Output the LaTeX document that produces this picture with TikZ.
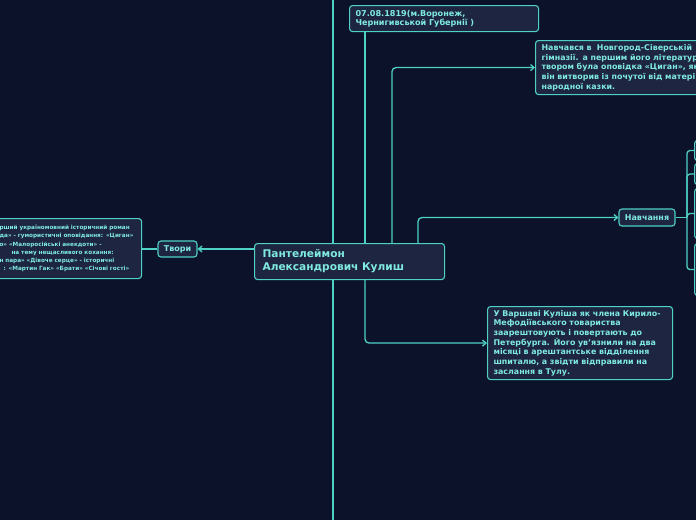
\documentclass[tikz,border=0pt]{standalone}
\usepackage{fontspec}
\setmainfont{DejaVu Sans}
\usetikzlibrary{positioning,arrows.meta,backgrounds}

\definecolor{bgnavy}{HTML}{0B1229}
\definecolor{boxfill}{HTML}{1E2541}
\definecolor{mmline}{HTML}{4FD1C5}
\definecolor{mmtext}{HTML}{7FEAE0}

\begin{document}
\begin{tikzpicture}[
  x=1pt, y=-1pt,
  box/.style   = {draw=mmline, fill=boxfill, rounded corners=3pt, line width=1.1pt,
                  text=mmtext, align=left, anchor=north west,
                  font=\bfseries\fontsize{7.9}{9.7}\selectfont,
                  inner xsep=6pt, inner ysep=2.5pt},
  topic/.style = {box, font=\bfseries\fontsize{10.6}{13}\selectfont,
                  inner xsep=8pt, inner ysep=5pt},
  tag/.style   = {box, anchor=center, font=\bfseries\fontsize{8}{9}\selectfont,
                  inner xsep=5pt, inner ysep=3pt},
  stub/.style  = {box, minimum width=40pt},
  link/.style  = {draw=mmline, line width=1.3pt, rounded corners=4pt},
  ar/.style    = {link, -{Straight Barb[length=3.5pt,width=6pt]}},
]
  \useasboundingbox (0,0) rectangle (696,520);

  % ---- central topic ----------------------------------------
  \node[topic, text width=174pt, minimum height=36pt] (kul) at (254,243)
    {Пантелеймон\\Александрович Кулиш};

  % ---- upper branches ---------------------------------------
  \node[box, text width=177pt, minimum height=26pt,
        font=\bfseries\fontsize{8.1}{9}\selectfont] (born) at (349,5)
    {07.08.1819(м.Воронеж,\\Чернигивськой Губернії )};
  \node[box, text width=200pt, minimum height=54pt] (school) at (535,40)
    {Навчався в~ Новгород-Сіверській\\
     гімназії. а першим його літературним\\
     твором була оповідка «Циган», який\\
     він витворив із почутої від матері\\
     народної казки.};
  \node[tag, minimum width=56pt, minimum height=17pt] (study) at (647,217.5) {Навчання};

  % ---- children of Навчання (cut by the page edge) ----------
  \node[stub, minimum height=20pt] (r1) at (694,140) {};
  \node[stub, minimum height=21pt] (r2) at (694,163) {};
  \node[stub, minimum height=50pt] (r3) at (694,188) {};
  \node[stub, minimum height=52pt] (r4) at (694,243) {};
  \coordinate (fork) at (687,217.5);

  % ---- lower branch -----------------------------------------
  \node[box, text width=173pt, minimum height=73pt] (exile) at (487,306)
    {У Варшаві Куліша як члена Кирило-\\
     Мефодіївського товариства\\
     заарештовують і повертають до\\
     Петербурга. Його ув'язнили на два\\
     місяці в арештантське відділення\\
     шпиталю, а звідти відправили на\\
     заслання в Тулу.};

  % ---- left branch ------------------------------------------
  \node[tag, minimum width=39pt, minimum height=16pt] (twory) at (177.5,249) {Твори};
  \node[box, text width=137pt, minimum height=60pt, inner ysep=4pt,
        font=\bfseries\fontsize{5.7}{8.2}\selectfont] (works) at (-8,218)
    {\hspace*{1pt}рший україномовний історичний роман\\
     \hspace*{1pt}да» - гумористичні оповідання: «Циган»\\
     \hspace*{1pt}о» «Малоросійські анекдоти» -\\
     \hspace*{13pt}на тему нещасливого кохання:\\
     \hspace*{1pt}н пара» «Дівоче серце» - історичні\\
     \hspace*{5pt}: «Мартин Гак» «Брати» «Січові гості»};

  % ---- connectors -------------------------------------------
  \coordinate (kb) at (365,243);
  \coordinate (ks) at (392,243);
  \coordinate (kn) at (418,243);
  \coordinate (ke) at (365,279);
  \coordinate (spinetop) at (333,0);
  \coordinate (spinebot) at (333,520);

  \begin{scope}[on background layer]
    \fill[bgnavy] (0,0) rectangle (696,520);
    \draw[link] (spinetop) -- (spinebot);
  \end{scope}

  \draw[link] (kb) -- (kb |- born.south);
  \draw[ar] (ks) |- (school.west);
  \draw[ar] (kn) |- (study.west);
  \draw[ar] (ke) |- (exile.west);
  \draw[ar] (twory.east -| kul.west) -- (twory.east);
  \draw[link] (twory.west) -- (twory.west -| works.east);

  \draw[link] (study.east) -- (fork);
  \foreach \r in {r1,r2,r3,r4}
    \draw[link, rounded corners=3pt] (fork) |- (\r.west);

\end{tikzpicture}
\end{document}
